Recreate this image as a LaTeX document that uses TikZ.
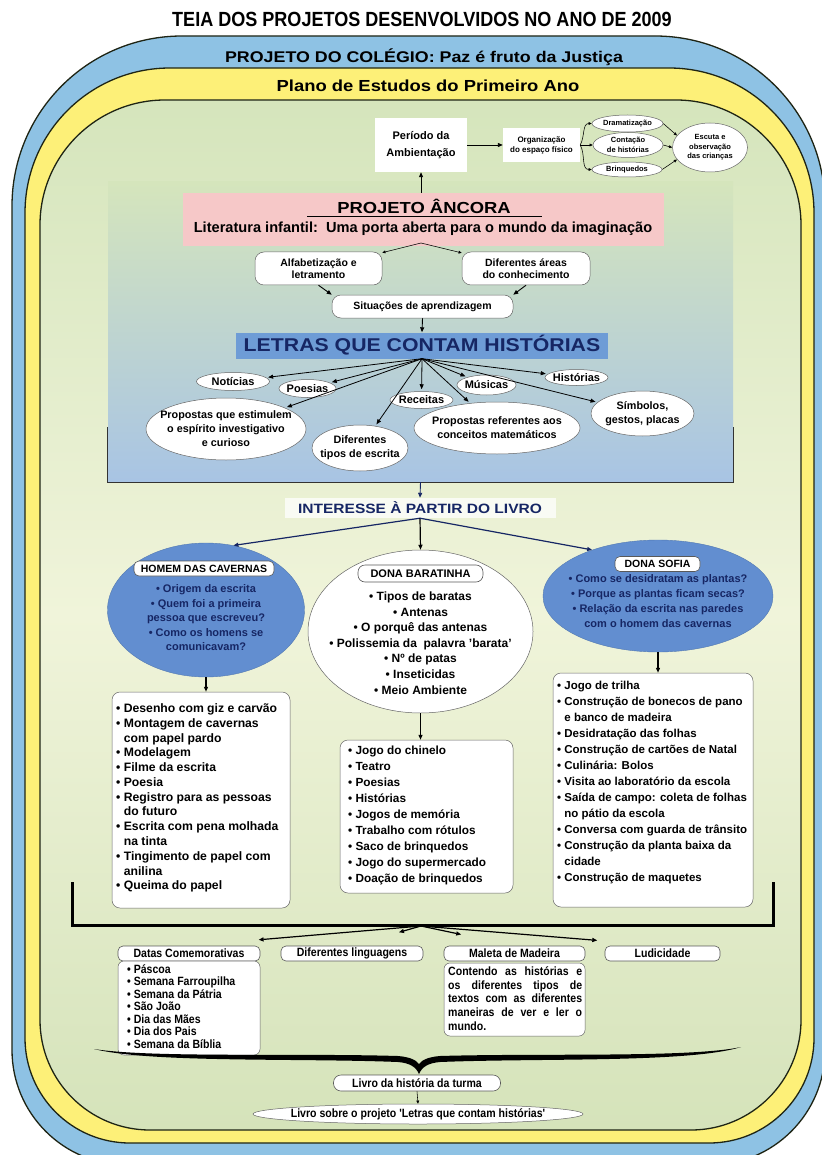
\documentclass[tikz,border=0pt]{standalone}
\usepackage{fontspec}
\setmainfont{Liberation Sans}
\newfontfamily\nf{Liberation Sans}[FakeStretch=0.88]
\newfontfamily\wf{Liberation Sans}[FakeStretch=1.15]
\usetikzlibrary{arrows.meta,shapes.geometric,calc}
\definecolor{bandblue}{RGB}{142,194,228}
\definecolor{bandyellow}{RGB}{253,240,120}
\definecolor{gtop}{RGB}{213,229,188}
\definecolor{gmid}{RGB}{240,244,218}
\definecolor{gbot}{RGB}{213,227,186}
\definecolor{pinkband}{RGB}{246,200,200}
\definecolor{bbot}{RGB}{168,196,228}
\definecolor{letrasfill}{RGB}{110,156,214}
\definecolor{navy}{RGB}{22,38,100}
\definecolor{ellblue}{RGB}{98,142,208}
\definecolor{framedark}{RGB}{30,36,20}
\newcommand\fz[2]{\fontsize{#1}{#2}\selectfont}
\newcommand\bu{\textbullet\ }
\newcommand\ind{\hphantom{\textbullet\ }}
\begin{document}
\begin{tikzpicture}[x=1pt,y=-1pt,
 ar/.style={-{Triangle[length=5pt,width=4pt]}, line width=0.9pt},
 ars/.style={-{Triangle[length=3.2pt,width=2.8pt]}, line width=0.55pt},
 wel/.style={ellipse, draw=black!60, fill=white, line width=0.5pt, inner sep=0pt},
 wrr/.style={rectangle, rounded corners=9pt, draw=black!60, fill=white, line width=0.5pt, inner sep=0pt},
 tag/.style={rectangle, rounded corners=5pt, draw=black!65, fill=white, line width=0.6pt, inner sep=0pt},
 lt/.style={font=\fz{11}{11}\bfseries, inner sep=0pt},
 st/.style={font=\fz{7.5}{9.5}\bfseries, inner sep=0pt, align=center},
 mt/.style={font=\fz{10.8}{14}\bfseries, inner sep=0pt, align=center},
 bt/.style={font=\nf\fz{12}{12}\bfseries},
 lst/.style={anchor=west, align=left, inner sep=0pt},
]
\useasboundingbox (0,0) rectangle (821,1155);
\fill[white] (0,0) rectangle (821,1155);

\node[font=\nf\fz{20.5}{20.5}\bfseries, inner sep=0] (title) at (422,19) {TEIA DOS PROJETOS DESENVOLVIDOS NO ANO DE 2009};

% frames
\path[draw=framedark, line width=1.3pt, fill=bandblue] (12,206) .. controls (12,112.1) and (88.1,36) .. (182,36) -- (655,36) .. controls (748.9,36) and (825,112.1) .. (825,206) -- (825,1050) .. controls (825,1113.5) and (773.5,1165) .. (710,1165) -- (127,1165) .. controls (63.5,1165) and (12,1113.5) .. (12,1050) -- cycle;
\node[font=\wf\fz{15.5}{15.5}\bfseries, inner sep=0] (proj) at (424,57) {PROJETO DO COLÉGIO: Paz é fruto da Justiça};
\path[draw=framedark, line width=1.3pt, fill=bandyellow] (25,213) .. controls (25,132.9) and (89.9,68) .. (170,68) -- (669,68) .. controls (749.1,68) and (814,132.9) .. (814,213) -- (814,1038) .. controls (814,1096) and (767,1143) .. (709,1143) -- (130,1143) .. controls (72,1143) and (25,1096) .. (25,1038) -- cycle;
\node[font=\wf\fz{16}{16}\bfseries, inner sep=0] (plano) at (428,86) {Plano de Estudos do Primeiro Ano};
\path[draw=framedark, line width=1.3pt, top color=gtop, bottom color=gbot, middle color=gmid] (40,225) .. controls (40,156) and (96,100) .. (165,100) -- (676,100) .. controls (745,100) and (801,156) .. (801,225) -- (801,1020) .. controls (801,1080.75) and (751.75,1130) .. (691,1130) -- (150,1130) .. controls (89.25,1130) and (40,1080.75) .. (40,1020) -- cycle;

% blue region
\node[inner sep=0, minimum width=625pt, minimum height=300pt, top color=gtop, bottom color=bbot] (breg) at (420.5,332) {};
\draw[line width=1pt, black!80] ($(breg.south west)+(0,-55)$) -- (breg.south west) -- (breg.south east) -- ($(breg.south east)+(0,-55)$);

% top part
\node[fill=white, inner sep=0, minimum width=92pt, minimum height=54pt, align=center, font=\fz{11}{17}\bfseries] (per) at (421,145) {Período da\\Ambientação};
\node[fill=white, inner sep=0, minimum width=77pt, minimum height=34pt, align=center, font=\fz{8}{10}\bfseries] (org) at (541.5,145) {Organização\\do espaço físico};
\node[wel, minimum width=71pt, minimum height=17pt, label={[st]center:Dramatização}] (dra) at (627.5,123.5) {};
\node[wel, minimum width=70pt, minimum height=25pt, label={[st]center:{Contação\\de histórias}}] (con) at (628,145) {};
\node[wel, minimum width=70pt, minimum height=15pt, label={[st]center:Brinquedos}] (bri) at (627,169.5) {};
\node[wel, minimum width=75pt, minimum height=49pt, label={[st]center:{Escuta e\\observação\\das crianças}}] (esc) at (710,147.5) {};

\node[fill=pinkband, inner sep=0, minimum width=481pt, minimum height=53pt] (pink) at (423.5,219.5) {};
\node[font=\wf\fz{16}{16}\bfseries, inner sep=0] (anc) at (424,206) {PROJETO ÂNCORA};
\draw[line width=1.1pt] (307,216.5) -- (542,216.5);
\node[font=\fz{14.6}{14.6}\bfseries, inner sep=0] (lit) at (423,229) {Literatura infantil:\ \ Uma porta aberta para o mundo da imaginação};

\draw[ar] (pink.north -| per.south) -- (per.south);
\draw[ar] (per.east) -- (org.west);
\draw[ars] (org.east) to[out=60,in=180] (dra.west);
\draw[ars] (org.east) -- (con.west);
\draw[ars] (org.east) to[out=-60,in=180] (bri.west);
\draw[ars] (dra.east) -- (esc.160);
\draw[ars] (con.east) -- (esc.west);
\draw[ars] (bri.east) -- (esc.200);

\node[wrr, minimum width=127pt, minimum height=33pt, align=center, font=\fz{10.5}{12.5}\bfseries] (alf) at (318.5,268.5) {Alfabetização e\\letramento};
\node[wrr, minimum width=128pt, minimum height=33pt, align=center, font=\fz{10.5}{12.5}\bfseries] (dif) at (526,268.5) {Diferentes áreas\\do conhecimento};
\node[wrr, minimum width=181pt, minimum height=23pt, font=\fz{10.5}{12}\bfseries] (sit) at (422.5,306.5) {Situações de aprendizagem};
\coordinate (pk) at (421,243);
\draw[ars] (pk) -- (alf);
\draw[ars] (pk) -- (dif);
\draw[ar] (alf.south) -- (sit.north west);
\draw[ar] (dif.south) -- (sit.north east);

\node[fill=letrasfill, inner sep=0, minimum width=372pt, minimum height=26pt, text=navy, font=\wf\fz{18.5}{18.5}\bfseries] (let) at (422,345.5) {LETRAS QUE CONTAM HISTÓRIAS};
\draw[ar] (sit.south) -- (let.north);
\coordinate (fan) at (let.south);

\node[wel, minimum width=73pt, minimum height=18pt, label={[lt]center:Notícias}] (not) at (233,381.5) {};
\node[wel, minimum width=57pt, minimum height=18pt, label={[lt]center:Poesias}] (poe) at (307.5,388.5) {};
\node[wel, minimum width=63pt, minimum height=17pt, label={[lt]center:Receitas}] (rec) at (421.5,400) {};
\node[wel, minimum width=59pt, minimum height=20pt, label={[lt]center:Músicas}] (mus) at (486.5,385) {};
\node[wel, minimum width=63pt, minimum height=16pt, label={[lt]center:Histórias}] (his) at (576.5,377.5) {};
\node[wel, minimum width=160pt, minimum height=62pt, label={[mt]center:{Propostas que estimulem\\o espírito investigativo\\e curioso}}] (pe) at (226,429) {};
\node[wel, minimum width=96pt, minimum height=46pt, label={[mt]center:{Diferentes\\tipos de escrita}}] (dt) at (360,448) {};
\node[wel, minimum width=166pt, minimum height=52pt, label={[mt]center:{Propostas referentes aos\\conceitos matemáticos}}] (pm) at (497,428) {};
\node[wel, minimum width=103pt, minimum height=45pt, label={[mt]center:{Símbolos,\\gestos, placas}}] (sim) at (642.5,413.5) {};
\foreach \t in {not,poe,rec,mus,his,pe,dt,pm,sim}
  \draw[ar, line width=0.8pt, shorten >=2pt] (fan) -- (\t);

% interesse
\node[fill=white, fill opacity=0.75, text opacity=1, inner sep=0, minimum width=271pt, minimum height=20pt, text=navy, font=\wf\fz{13.5}{13.5}\bfseries] (int) at (420,508) {INTERESSE À PARTIR DO LIVRO};
\draw[ar, navy] (breg.south) -- (int.north);
\coordinate (ib) at (int.south);

% three branches
\node[ellipse, fill=ellblue, draw=ellblue!85!black, inner sep=0, minimum width=197pt, minimum height=134pt] (hom) at (206,610) {};
\node[tag, minimum width=140pt, minimum height=15pt, font=\fz{10.5}{10.5}\bfseries] (homl) at (204,568.5) {HOMEM DAS CAVERNAS};
\node[text=navy, align=center, font=\fz{11}{14.5}\bfseries, inner sep=0] (homt) at (206,618) {\bu Origem da escrita\\\bu Quem foi a primeira\\pessoa que escreveu?\\\bu Como os homens se\\comunicavam?};

\node[wel, minimum width=225pt, minimum height=163pt] (bar) at (420.5,631.5) {};
\node[tag, rounded corners=7pt, minimum width=125pt, minimum height=17pt, font=\fz{11}{11}\bfseries] (barl) at (420.5,573.5) {DONA BARATINHA};
\node[align=center, font=\fz{12}{15.6}\bfseries, inner sep=0] (bart) at (420.5,643) {\bu Tipos de baratas\\\bu Antenas\\\bu O porquê das antenas\\\bu Polissemia da\ \ palavra 'barata'\\\bu Nº de patas\\\bu Inseticidas\\\bu Meio Ambiente};

\node[ellipse, fill=ellblue, draw=ellblue!85!black, inner sep=0, minimum width=230pt, minimum height=112pt] (sof) at (658,596) {};
\node[tag, minimum width=85pt, minimum height=15pt, font=\fz{10.5}{10.5}\bfseries] (sofl) at (657.5,564) {DONA SOFIA};
\node[text=navy, align=center, font=\fz{11}{15}\bfseries, inner sep=0] (soft) at (658,601) {\bu Como se desidratam as plantas?\\\bu Porque as plantas ficam secas?\\\bu Relação da escrita nas paredes\\com o homem das cavernas};

\draw[ar, navy, line width=1.2pt] (ib) -- (hom.67);
\draw[ar, line width=1.2pt] (ib) -- (bar.north);
\draw[ar, navy, line width=1.2pt] (ib) -- (sof.145);

% boxes
\node[wrr, rounded corners=8pt, minimum width=178pt, minimum height=216pt] (lb) at (201,800) {};
\node[lst, font=\fz{12.2}{14.77}\bfseries] (lbt) at (116,798) {\bu Desenho com giz e carvão\\\bu Montagem de cavernas\\\ind com papel pardo\\\bu Modelagem\\\bu Filme da escrita\\\bu Poesia\\\bu Registro para as pessoas\\\ind do futuro\\\bu Escrita com pena molhada\\\ind na tinta\\\bu Tingimento de papel com\\\ind anilina\\\bu Queima do papel};

\node[wrr, rounded corners=8pt, minimum width=173pt, minimum height=153pt] (mb) at (426.5,816.5) {};
\node[lst, font=\fz{11.8}{16}\bfseries] (mbt) at (348,815) {\bu Jogo do chinelo\\\bu Teatro\\\bu Poesias\\\bu Histórias\\\bu Jogos de memória\\\bu Trabalho com rótulos\\\bu Saco de brinquedos\\\bu Jogo do supermercado\\\bu Doação de brinquedos};

\node[wrr, rounded corners=8pt, minimum width=200pt, minimum height=234pt] (rb) at (653,790) {};
\node[lst, font=\fz{11.5}{16}\bfseries] (rbt) at (557,783) {\bu Jogo de trilha\\\bu Construção de bonecos de pano\\\ind e banco de madeira\\\bu Desidratação das folhas\\\bu Construção de cartões de Natal\\\bu Culinária: Bolos\\\bu Visita ao laboratório da escola\\\bu Saída de campo: coleta de folhas\\\ind no pátio da escola\\\bu Conversa com guarda de trânsito\\\bu Construção da planta baixa da\\\ind cidade\\\bu Construção de maquetes};

\draw[ar, line width=1.2pt] (hom.south) -- (hom.south |- lb.north);
\draw[ar, line width=1.2pt] (bar.south) -- (bar.south |- mb.north);
\draw[ar, line width=1.2pt] (sof.south) -- (sof.south |- rb.north);

% bracket
\coordinate (bl) at (72,882);
\coordinate (brr) at (773,882);
\coordinate (br) at (421,926);
\draw[line width=3pt] (bl) -- (72,925) -- (773,925) -- (brr);

% bottom
\node[tag, minimum width=142pt, minimum height=15pt, bt] (datl) at (189,953.5) {Datas Comemorativas};
\node[wrr, rounded corners=6pt, minimum width=142pt, minimum height=94pt] (datb) at (189,1008) {};
\node[lst, font=\nf\fz{12}{12.5}\bfseries] (datt) at (127,1006.5) {\bu Páscoa\\\bu Semana Farroupilha\\\bu Semana da Pátria\\\bu São João\\\bu Dia das Mães\\\bu Dia dos Pais\\\bu Semana da Bíblia};
\node[tag, minimum width=142pt, minimum height=15pt, bt] (difl) at (352,953.5) {Diferentes linguagens};
\node[tag, minimum width=141pt, minimum height=15pt, bt] (mall) at (514.5,953.5) {Maleta de Madeira};
\node[wrr, rounded corners=6pt, minimum width=141pt, minimum height=73pt] (malb) at (514.5,999.5) {};
\node[lst, font=\nf\fz{12}{13.75}\bfseries] (malt) at (448,998.5) {\makebox[134pt][s]{Contendo as histórias e}\\\makebox[134pt][s]{os diferentes tipos de}\\\makebox[134pt][s]{textos com as diferentes}\\\makebox[134pt][s]{maneiras de ver e ler o}\\mundo.};
\node[tag, minimum width=115pt, minimum height=15pt, bt] (ludl) at (662.5,953.5) {Ludicidade};

\draw[ar, line width=1.2pt] (br) -- ($(br)!0.7!(datl.north)$);
\draw[ar, line width=1.2pt] (br) -- ($(br)!0.32!(difl.north)$);
\draw[ar, line width=1.2pt] (br) -- ($(br)!0.43!(mall.north)$);
\draw[ar, line width=1.2pt] (br) -- ($(br)!0.73!(ludl.north)$);

% brace
\fill (94,1049) .. controls (150,1063) and (300,1058) .. (398,1062) .. controls (410,1063) and (416,1067) .. (419,1074) .. controls (422,1067) and (428,1063) .. (440,1062) .. controls (540,1058) and (690,1063) .. (741,1047) .. controls (690,1058) and (540,1053) .. (440,1056) .. controls (428,1057) and (422,1060) .. (419,1064) .. controls (416,1060) and (410,1057) .. (398,1056) .. controls (300,1053) and (150,1058) .. (94,1049) -- cycle;

\node[tag, rounded corners=7.5pt, minimum width=167pt, minimum height=16pt, bt] (livt) at (417,1083) {Livro da história da turma};
\node[wel, minimum width=330pt, minimum height=20pt, label={[bt, inner sep=0pt]center:{Livro sobre o projeto 'Letras que contam histórias'}}] (livp) at (418,1114) {};
\draw[ars] (livt.south) -- (livp.north);
\end{tikzpicture}
\end{document}
